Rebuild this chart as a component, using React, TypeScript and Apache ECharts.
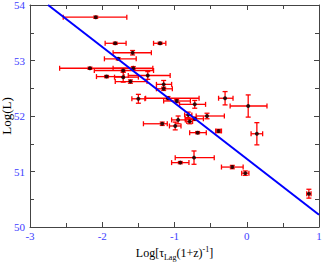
import React, { useEffect, useRef } from "react";
import * as echarts from "echarts";

// Each point: [x, y, xLow, xHigh, yLow, yHigh]
const pointX = [-2.09, -1.82, -1.20, -1.58, -1.78, -2.17, -1.71, -1.57, -1.94, -1.71, -1.37, -1.61, -1.15, -1.15, -1.50, -1.09, -0.97, -0.72, -0.30, 0.02, -0.55, -0.81, -0.79, -0.72, -0.95, -1.17, -0.99, -0.68, -0.39, 0.14, -0.73, -0.92, -0.20, -0.02, 0.86];
const pointY = [53.78, 53.31, 53.31, 53.14, 53.03, 52.86, 52.82, 52.86, 52.71, 52.70, 52.73, 52.62, 52.57, 52.49, 52.31, 52.32, 52.27, 52.21, 52.32, 52.18, 52.00, 52.02, 51.90, 51.95, 51.93, 51.86, 51.82, 51.70, 51.73, 51.68, 51.25, 51.16, 51.08, 50.97, 50.60];
const xLow = [-2.54, -1.96, -1.29, -1.85, -1.97, -2.59, -2.11, -1.85, -2.08, -1.83, -1.64, -1.82, -1.25, -1.25, -1.59, -1.40, -1.15, -0.93, -0.39, -0.23, -0.70, -0.86, -0.83, -0.85, -1.04, -1.43, -1.07, -0.79, -0.43, 0.06, -0.99, -1.04, -0.35, -0.07, 0.83];
const xHigh = [-1.66, -1.67, -1.12, -1.32, -1.53, -1.57, -1.29, -1.30, -1.70, -1.50, -1.06, -1.38, -1.04, -1.03, -1.41, -0.66, -0.78, -0.57, -0.19, 0.28, -0.31, -0.76, -0.75, -0.60, -0.85, -1.10, -0.91, -0.56, -0.35, 0.22, -0.45, -0.80, -0.05, 0.03, 0.89];
const yErr = [0.02, 0.02, 0.02, 0.04, 0.02, 0.02, 0.03, 0.03, 0.02, 0.09, 0.07, 0.03, 0.07, 0.03, 0.08, 0.03, 0.03, 0.07, 0.12, 0.20, 0.05, 0.05, 0.04, 0.03, 0.07, 0.03, 0.07, 0.02, 0.03, 0.20, 0.12, 0.02, 0.03, 0.04, 0.08];

const fitX = [-2.75, 1.0];
const fitY = [54.0, 50.22];

const xTicks = [-3, -2, -1, 0, 1];
const yTicks = [50, 51, 52, 53, 54];

const FONT = "Liberation Serif";
const LABEL_BLUE = "#3d3dff";
const AXIS_GREY = "#444444";

export default function App() {
  const ref = useRef<HTMLDivElement>(null);
  useEffect(() => {
    if (!ref.current) return;
    const chart = echarts.init(ref.current, null, { renderer: "svg" });
    const errData = pointX.map((x, i) => [x, pointY[i], xLow[i], xHigh[i], pointY[i] - yErr[i], pointY[i] + yErr[i]]);
    const dotData = pointX.map((x, i) => [x, pointY[i]]);
    const fitData = fitX.map((x, i) => [x, fitY[i]]);

    const baseAxis = (min: number, max: number, showLabel: boolean, margin: number) => ({
      min,
      max,
      interval: 1,
      axisLine: { show: true, onZero: false, lineStyle: { color: AXIS_GREY, width: 1 } },
      axisTick: { show: true, inside: true, length: 5, lineStyle: { color: AXIS_GREY } },
      minorTick: { show: true, splitNumber: 2, length: 4, lineStyle: { color: AXIS_GREY } },
      splitLine: { show: false },
      axisLabel: {
        show: showLabel,
        color: LABEL_BLUE,
        fontFamily: FONT,
        fontSize: 11,
        margin,
      },
    });

    chart.setOption({
      animation: false,
      backgroundColor: "#ffffff",
      grid: { left: 30, right: 4, top: 5, bottom: 38, containLabel: false, outerBoundsMode: "none" },
      xAxis: [
        {
          type: "value",
          position: "bottom",
          ...baseAxis(xTicks[0], xTicks[xTicks.length - 1], true, 3),
          name: "{m|Log[τ}{sub|Lag}{m|(1+z)}{sup|-1}{m|]}",
          nameLocation: "middle",
          nameGap: 18,
          nameMoveOverlap: false,
          nameTextStyle: {
            fontFamily: FONT,
            color: "#000",
            verticalAlign: "top",
            rich: {
              m: { fontFamily: FONT, fontSize: 12, color: "#000", lineHeight: 16, verticalAlign: "middle" },
              sub: { fontFamily: FONT, fontSize: 8, color: "#000", lineHeight: 8, verticalAlign: "bottom" },
              sup: { fontFamily: FONT, fontSize: 8, color: "#000", lineHeight: 8, verticalAlign: "top" },
            },
          },
        },
        {
          type: "value",
          position: "top",
          ...baseAxis(xTicks[0], xTicks[xTicks.length - 1], false, 3),
        },
      ],
      yAxis: [
        {
          type: "value",
          position: "left",
          ...baseAxis(yTicks[0], yTicks[yTicks.length - 1], true, 5),
          name: "Log(L)",
          nameLocation: "middle",
          nameGap: 17,
          nameMoveOverlap: false,
          nameTextStyle: { fontFamily: FONT, fontSize: 13, color: "#000" },
        },
        {
          type: "value",
          position: "right",
          ...baseAxis(yTicks[0], yTicks[yTicks.length - 1], false, 5),
        },
      ],
      series: [
        {
          type: "custom",
          xAxisIndex: 0,
          yAxisIndex: 0,
          data: errData,
          encode: { x: 0, y: 1 },
          z: 2,
          renderItem: (params: any, api: any) => {
            const x = api.value(0);
            const y = api.value(1);
            const l = api.coord([api.value(2), y]);
            const r = api.coord([api.value(3), y]);
            const b = api.coord([x, api.value(4)]);
            const t = api.coord([x, api.value(5)]);
            const c = 2.5;
            const style = { stroke: "#ff0000", lineWidth: 1.3 };
            const seg = (x1: number, y1: number, x2: number, y2: number) => ({
              type: "line",
              shape: { x1, y1, x2, y2 },
              style,
            });
            return {
              type: "group",
              children: [
                seg(l[0], l[1], r[0], r[1]),
                seg(l[0], l[1] - c, l[0], l[1] + c),
                seg(r[0], r[1] - c, r[0], r[1] + c),
                seg(b[0], b[1], t[0], t[1]),
                seg(b[0] - c, b[1], b[0] + c, b[1]),
                seg(t[0] - c, t[1], t[0] + c, t[1]),
              ],
            };
          },
        },
        {
          type: "scatter",
          xAxisIndex: 0,
          yAxisIndex: 0,
          data: dotData,
          symbol: "circle",
          symbolSize: 4,
          itemStyle: { color: "#000000" },
          z: 3,
        },
        {
          type: "line",
          xAxisIndex: 0,
          yAxisIndex: 0,
          data: fitData,
          showSymbol: false,
          symbol: "none",
          lineStyle: { color: "#0000ff", width: 2 },
          z: 4,
        },
      ],
    });
    return () => chart.dispose();
  }, []);
  return (
    <div
      ref={ref}
      style={{ position: "fixed", left: 0, top: 0, width: 323, height: 265, background: "#fff" }}
    />
  );
}
